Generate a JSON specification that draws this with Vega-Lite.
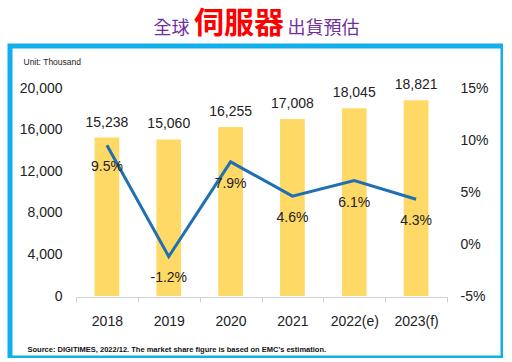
{
  "$schema": "https://vega.github.io/schema/vega-lite/v6.json",
  "width": 493,
  "height": 312,
  "autosize": {"type": "none"},
  "padding": {"left": 10, "top": 46, "right": 0, "bottom": 0},
  "background": "white",
  "title": {
    "text": "伺服器",
    "color": "#ff0000",
    "font": "Noto Sans CJK TC",
    "fontSize": 30,
    "fontWeight": "bold",
    "anchor": "start",
    "frame": "group",
    "baseline": "middle",
    "offset": 0,
    "dx": 184,
    "dy": 35
  },
  "data": {
    "values": [
      {"year": "2018", "units": 15238, "growth": 0.095},
      {"year": "2019", "units": 15060, "growth": -0.012},
      {"year": "2020", "units": 16255, "growth": 0.079},
      {"year": "2021", "units": 17008, "growth": 0.046},
      {"year": "2022(e)", "units": 18045, "growth": 0.061},
      {"year": "2023(f)", "units": 18821, "growth": 0.043}
    ]
  },
  "config": {
    "view": {"stroke": "#0fb0ec", "strokeWidth": 5},
    "locale": {"number": {"decimal": ".", "thousands": ",", "grouping": [3], "currency": ["$", ""], "minus": "-"}},
    "axis": {
      "labelFont": "Liberation Sans",
      "labelFontSize": 14,
      "labelColor": "#222222",
      "grid": false
    },
    "text": {"font": "Liberation Sans", "fontSize": 14, "color": "#222222"}
  },
  "layer": [
    {
      "encoding": {
        "x": {
          "field": "year",
          "type": "ordinal",
          "sort": null,
          "scale": {"range": [66, 437], "paddingInner": 0, "paddingOuter": 0},
          "axis": {
            "orient": "bottom",
            "offset": -61,
            "labelAngle": 0,
            "domainColor": "#d0d0d0",
            "tickColor": "#d0d0d0",
            "tickSize": 5,
            "tickBand": "extent",
            "labelPadding": 12,
            "title": "Source: DIGITIMES, 2022/12. The market share figure is based on EMC's estimation.",
            "titleFont": "Liberation Sans",
            "titleFontSize": 7.5,
            "titleFontWeight": "bold",
            "titleColor": "#111111",
            "titleAngle": 0,
            "titleAlign": "left",
            "titleBaseline": "middle",
            "titleAnchor": "start",
            "titleX": 17,
            "titleY": 52
          }
        },
        "y": {
          "field": "units",
          "type": "quantitative",
          "scale": {"domain": [0, 20000], "range": [250, 42], "nice": false, "zero": false},
          "axis": {
            "orient": "left",
            "offset": -56,
            "values": [0, 4000, 8000, 12000, 16000, 20000],
            "format": ",.0f",
            "domain": false,
            "ticks": false,
            "tickSize": 0,
            "labelPadding": 4,
            "title": "Unit: Thousand",
            "titleFont": "Liberation Sans",
            "titleFontSize": 8.5,
            "titleFontWeight": "normal",
            "titleColor": "#222222",
            "titleAngle": 0,
            "titleAlign": "left",
            "titleBaseline": "middle",
            "titleX": -43,
            "titleY": 15
          }
        }
      },
      "layer": [
        {"mark": {"type": "bar", "color": "#ffd966", "width": {"band": 0.4}}},
        {
          "mark": {"type": "text", "baseline": "alphabetic", "dy": -11},
          "encoding": {"text": {"field": "units", "type": "quantitative", "format": ","}}
        }
      ]
    },
    {
      "encoding": {
        "x": {
          "field": "year",
          "type": "ordinal",
          "sort": null,
          "scale": {"range": [66, 437], "paddingInner": 0, "paddingOuter": 0},
          "axis": {
            "orient": "top",
            "labels": false,
            "ticks": false,
            "domain": false,
            "title": "全球",
            "titleFont": "Noto Sans CJK TC",
            "titleFontSize": 18,
            "titleFontWeight": "normal",
            "titleColor": "#7030a0",
            "titleAngle": 0,
            "titleAlign": "left",
            "titleBaseline": "middle",
            "titleX": 143,
            "titleY": -18
          }
        },
        "y": {
          "field": "growth",
          "type": "quantitative",
          "scale": {"domain": [-0.05, 0.15], "range": [250, 42], "nice": false, "zero": false},
          "axis": {
            "orient": "right",
            "offset": -47,
            "values": [-0.05, 0, 0.05, 0.1, 0.15],
            "format": ".0%",
            "domain": false,
            "ticks": false,
            "tickSize": 0,
            "labelPadding": 4,
            "title": "出貨預估",
            "titleFont": "Noto Sans CJK TC",
            "titleFontSize": 18,
            "titleFontWeight": "normal",
            "titleColor": "#7030a0",
            "titleAngle": 0,
            "titleAlign": "left",
            "titleBaseline": "middle",
            "titleX": -169,
            "titleY": -18
          }
        }
      },
      "layer": [
        {"mark": {"type": "line", "color": "#1f6fb5", "strokeWidth": 3}},
        {
          "mark": {"type": "text", "baseline": "middle", "dy": 22},
          "encoding": {"text": {"field": "growth", "type": "quantitative", "format": ".1%"}}
        }
      ]
    }
  ],
  "resolve": {"scale": {"y": "independent"}, "axis": {"x": "independent"}}
}
